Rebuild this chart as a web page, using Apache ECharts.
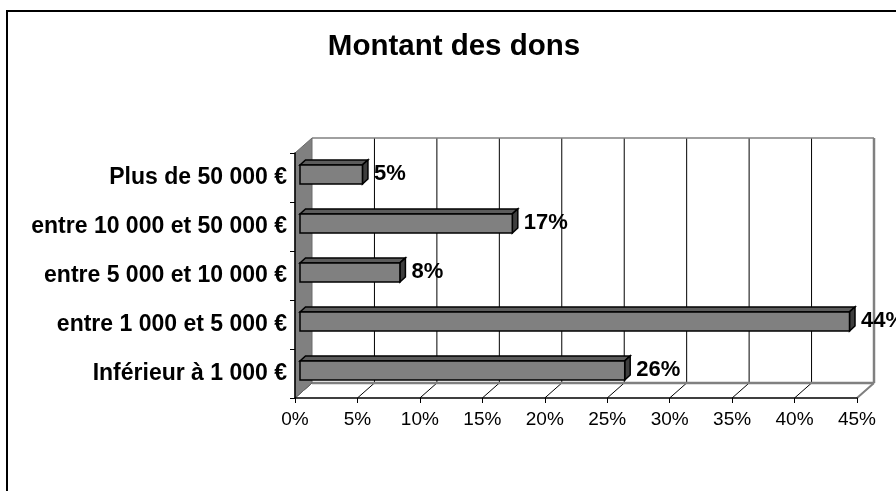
<!DOCTYPE html>
<html>
<head>
<meta charset="utf-8">
<script src="https://cdn.jsdelivr.net/npm/echarts@6/dist/echarts.min.js"></script>
<style>
  html, body { margin: 0; padding: 0; background: #fff; }
  #chart { width: 896px; height: 491px; }
</style>
</head>
<body>
<div id="chart"></div>
<script>
const categories = ['Inférieur à 1 000 €', 'entre 1 000 et 5 000 €', 'entre 5 000 et 10 000 €', 'entre 10 000 et 50 000 €', 'Plus de 50 000 €'];
const values = [26, 44, 8, 17, 5];
const xMin = 0, xMax = 45, xStep = 5;
const titleText = 'Montant des dons';

const FONT = '"Liberation Sans", Arial, sans-serif';
const DEPTH = [17, -15];

const chart = echarts.init(document.getElementById('chart'));

function renderWalls(params, api) {
  const cs = params.coordSys;
  const x0 = cs.x, x1 = cs.x + cs.width, yT = cs.y, yB = cs.y + cs.height;
  const dx = DEPTH[0], dy = DEPTH[1];
  const children = [];
  children.push({ type: 'polygon', shape: { points: [[x0, yB], [x1, yB], [x1 + dx, yB + dy], [x0 + dx, yB + dy]] },
    style: { fill: '#ffffff', stroke: null } });
  for (let v = xMin; v <= xMax; v += xStep) {
    const px = api.coord([v, 0])[0];
    if (v > xMin && v < xMax) {
      children.push({ type: 'line', shape: { x1: px + dx, y1: yT + dy, x2: px + dx, y2: yB + dy },
        style: { stroke: '#000', lineWidth: 1 } });
    }
    children.push({ type: 'line', shape: { x1: px, y1: yB, x2: px + dx, y2: yB + dy },
      style: { stroke: '#000', lineWidth: 1 } });
  }
  children.push({ type: 'line', shape: { x1: x0 + dx, y1: yT + dy, x2: x1 + dx, y2: yT + dy },
    style: { stroke: '#808080', lineWidth: 1.5 } });
  children.push({ type: 'line', shape: { x1: x1 + dx, y1: yT + dy, x2: x1 + dx, y2: yB + dy },
    style: { stroke: '#808080', lineWidth: 2.5 } });
  children.push({ type: 'line', shape: { x1: x0 + dx, y1: yB + dy, x2: x1 + dx, y2: yB + dy },
    style: { stroke: '#808080', lineWidth: 2.5 } });
  children.push({ type: 'line', shape: { x1: x1, y1: yB, x2: x1 + dx, y2: yB + dy },
    style: { stroke: '#808080', lineWidth: 2 } });
  children.push({ type: 'polygon', shape: { points: [[x0, yT], [x0 + dx, yT + dy], [x0 + dx, yB + dy], [x0, yB]] },
    style: { fill: '#808080', stroke: '#6a6a6a', lineWidth: 1 } });
  return { type: 'group', children };
}

function renderBar(params, api) {
  const v = api.value(0);
  const cat = api.value(1);
  const p0 = api.coord([0, cat]);
  const p1 = api.coord([v, cat]);
  const band = api.size([0, 1])[1];
  const h = band * 0.39;
  const cy = p0[1] - band * 0.062;
  const ox = 5;
  const dx = 5.5, dy = -5;
  const fx0 = p0[0] + ox, fx1 = p1[0] + ox;
  const fy0 = cy - h / 2, fy1 = cy + h / 2;
  const st = { stroke: '#000', lineWidth: 1.5, lineJoin: 'miter' };
  return {
    type: 'group',
    children: [
      { type: 'polygon', shape: { points: [[fx0, fy0], [fx1, fy0], [fx1 + dx, fy0 + dy], [fx0 + dx, fy0 + dy]] },
        style: Object.assign({ fill: '#5c5c5c' }, st) },
      { type: 'polygon', shape: { points: [[fx1, fy0], [fx1 + dx, fy0 + dy], [fx1 + dx, fy1 + dy], [fx1, fy1]] },
        style: Object.assign({ fill: '#3e3e3e' }, st) },
      { type: 'rect', shape: { x: fx0, y: fy0, width: fx1 - fx0, height: fy1 - fy0 },
        style: Object.assign({ fill: '#808080' }, st) },
      { type: 'text', x: fx1 + dx + 6, y: cy - 1,
        style: { text: v + '%', font: 'bold 22px ' + FONT, fill: '#000', textAlign: 'left', textVerticalAlign: 'middle' } }
    ]
  };
}

const option = {
  animation: false,
  backgroundColor: '#ffffff',
  title: {
    text: titleText,
    left: 449,
    top: 27,
    textAlign: 'center',
    textStyle: { fontFamily: FONT, fontSize: 29.5, fontWeight: 'bold', color: '#000' }
  },
  grid: { left: 295, right: 39, top: 153, bottom: 93, containLabel: false },
  xAxis: {
    type: 'value', min: xMin, max: xMax, interval: xStep, z: 5,
    axisLine: { show: true, lineStyle: { color: '#000', width: 1.5 } },
    axisTick: { show: true, length: 5, inside: false, lineStyle: { color: '#000', width: 1 } },
    axisLabel: { formatter: '{value}%', margin: 12, fontFamily: FONT, fontSize: 19, color: '#000' },
    splitLine: { show: false }
  },
  yAxis: {
    type: 'category', data: categories, z: 5,
    axisLine: { show: true, lineStyle: { color: '#000', width: 1.5 } },
    axisTick: { show: true, length: 5, lineStyle: { color: '#000', width: 1 } },
    axisLabel: { margin: 8, fontFamily: FONT, fontSize: 23, fontWeight: 'bold', color: '#000' },
    splitLine: { show: false }
  },
  graphic: [{
    type: 'rect', z: 100, silent: true,
    shape: { x: 7, y: 11, width: 1000, height: 1000 },
    style: { fill: 'none', stroke: '#000', lineWidth: 2 }
  }],
  series: [
    { type: 'custom', name: 'walls', z: 1, renderItem: renderWalls, data: [[0, 0]], encode: { x: 0, y: 1 }, silent: true },
    { type: 'custom', name: 'Montant des dons', z: 3, renderItem: renderBar,
      data: values.map((v, i) => [v, i]), encode: { x: 0, y: 1 } }
  ]
};
chart.setOption(option);
</script>
</body>
</html>
